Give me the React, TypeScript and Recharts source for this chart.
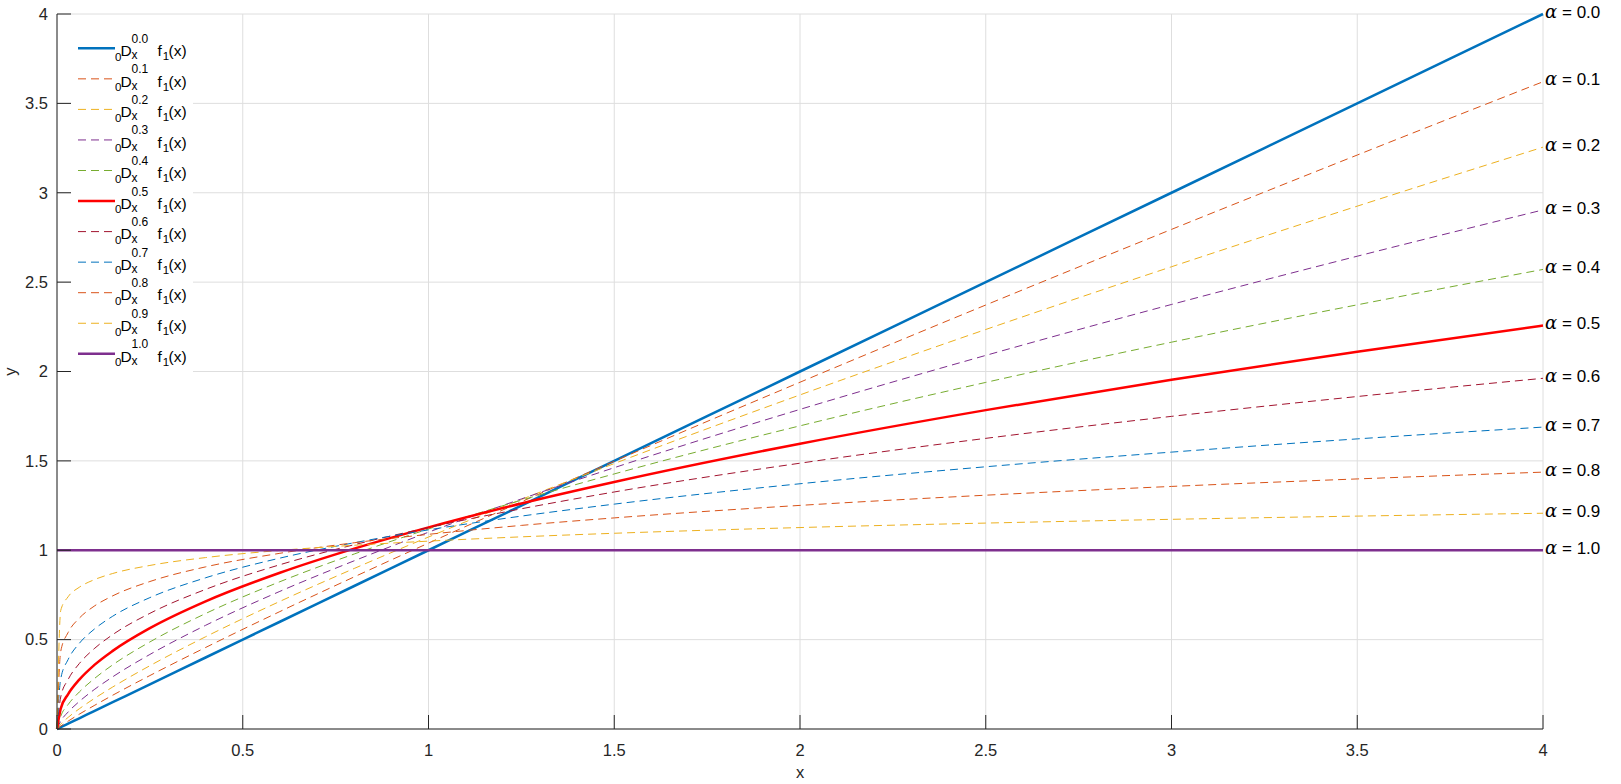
import { CartesianGrid, Label, LabelList, Legend, Line, LineChart, XAxis, YAxis } from "recharts";

// sample positions along x
const xValues = [0, 0.01, 0.03, 0.06, 0.1, 0.15, 0.25, 0.4, 0.6, 0.8, 1, 1.25, 1.5, 2, 2.5, 3, 3.5, 4];

// one series per alpha
const alpha00 = [0, 0.01, 0.03, 0.06, 0.1, 0.15, 0.25, 0.4, 0.6, 0.8, 1, 1.25, 1.5, 2, 2.5, 3, 3.5, 4];
const alpha01 = [0, 0.016, 0.044, 0.083, 0.131, 0.189, 0.299, 0.456, 0.657, 0.851, 1.04, 1.271, 1.498, 1.94, 2.372, 2.795, 3.211, 3.621];
const alpha02 = [0, 0.027, 0.065, 0.113, 0.17, 0.235, 0.354, 0.516, 0.714, 0.898, 1.074, 1.284, 1.485, 1.869, 2.235, 2.586, 2.925, 3.255];
const alpha03 = [0, 0.044, 0.095, 0.154, 0.22, 0.292, 0.417, 0.58, 0.77, 0.941, 1.101, 1.287, 1.462, 1.788, 2.09, 2.375, 2.645, 2.904];
const alpha04 = [0, 0.071, 0.137, 0.207, 0.281, 0.359, 0.487, 0.646, 0.824, 0.979, 1.119, 1.28, 1.427, 1.696, 1.939, 2.164, 2.373, 2.571];
const alpha05 = [0, 0.113, 0.195, 0.276, 0.357, 0.437, 0.564, 0.714, 0.874, 1.009, 1.128, 1.262, 1.382, 1.596, 1.784, 1.954, 2.111, 2.257];
const alpha06 = [0, 0.179, 0.277, 0.366, 0.449, 0.528, 0.647, 0.781, 0.919, 1.031, 1.127, 1.232, 1.326, 1.487, 1.626, 1.749, 1.86, 1.962];
const alpha07 = [0, 0.28, 0.389, 0.479, 0.558, 0.631, 0.735, 0.846, 0.956, 1.042, 1.114, 1.191, 1.258, 1.372, 1.467, 1.549, 1.623, 1.689];
const alpha08 = [0, 0.434, 0.54, 0.62, 0.687, 0.745, 0.825, 0.907, 0.983, 1.042, 1.089, 1.139, 1.181, 1.251, 1.308, 1.357, 1.399, 1.437];
const alpha09 = [0, 0.663, 0.74, 0.793, 0.835, 0.87, 0.915, 0.959, 0.999, 1.028, 1.051, 1.075, 1.095, 1.127, 1.152, 1.173, 1.191, 1.207];
const alpha10 = [1, 1, 1, 1, 1, 1, 1, 1, 1, 1, 1, 1, 1, 1, 1, 1, 1, 1];

const alphaNames = ["0.0", "0.1", "0.2", "0.3", "0.4", "0.5", "0.6", "0.7", "0.8", "0.9", "1.0"];
const tickValues = [0, 0.5, 1, 1.5, 2, 2.5, 3, 3.5, 4];

const seriesValues = [alpha00, alpha01, alpha02, alpha03, alpha04, alpha05, alpha06, alpha07, alpha08, alpha09, alpha10];
const seriesColors = [
  "#0072BD", "#D95319", "#EDB120", "#7E2F8E", "#77AC30", "#FF0000",
  "#A2142F", "#0072BD", "#D95319", "#EDB120", "#7E2F8E",
];
const solidSeries = [true, false, false, false, false, true, false, false, false, false, true];

const chartData = xValues.map((x, i) => {
  const row: Record<string, number> = { x };
  seriesValues.forEach((values, k) => {
    row[`a${k}`] = values[i];
  });
  return row;
});

const FONT = "'Liberation Sans', Arial, Helvetica, sans-serif";
const AXIS = "#262626";
const DASH = "8 5";

function LegendBox() {
  return (
    <div style={{ width: 122, height: 361, background: "#fff" }}>
      <svg width={122} height={361} style={{ display: "block", fontFamily: FONT }}>
        {alphaNames.map((name, k) => {
          const ly = 33.3 + 30.55 * k;
          return (
            <g key={name} fill="#000">
              <line
                x1={7}
                x2={44}
                y1={ly}
                y2={ly}
                stroke={seriesColors[k]}
                strokeWidth={solidSeries[k] ? 2.5 : 1}
                strokeDasharray={solidSeries[k] ? undefined : DASH}
              />
              <text x={44} y={ly + 12.3} fontSize={11.5}>0</text>
              <text x={49.5} y={ly + 7.7} fontSize={15.5}>D</text>
              <text x={60.5} y={ly - 5.5} fontSize={12}>{name}</text>
              <text x={60.5} y={ly + 11} fontSize={12}>x</text>
              <text x={86.5} y={ly + 7.7} fontSize={15.5}>f</text>
              <text x={91.8} y={ly + 11.7} fontSize={11.5}>1</text>
              <text x={97.5} y={ly + 7.7} fontSize={15.5}>(x)</text>
            </g>
          );
        })}
      </svg>
    </div>
  );
}

const endLabel = (k: number) => (props: any) => {
  if (props.index !== xValues.length - 1) return null;
  const x = Number(props.x);
  const y = Number(props.y);
  return (
    <g>
      <text x={x + 2} y={y + 3.6} fontSize={18} fontStyle="italic" fontFamily="'DejaVu Serif', 'Liberation Serif', serif" fill="#000">
        α
      </text>
      <text x={x + 19} y={y + 3.6} fontSize={17} fontFamily={FONT} fill="#000">
        = {alphaNames[k]}
      </text>
    </g>
  );
};

export default function App() {
  return (
    <div style={{ position: "absolute", left: 0, top: 0, background: "#fff", fontFamily: FONT }}>
      <LineChart width={1621} height={784} data={chartData} margin={{ top: 14, right: 78, left: 0, bottom: 0 }}>
        <CartesianGrid stroke="#dedede" strokeWidth={1} />
        <XAxis
          dataKey="x"
          type="number"
          domain={[0, 4]}
          ticks={tickValues}
          interval={0}
          height={55}
          tickSize={-14}
          tickMargin={29}
          tick={{ fontSize: 16.5, fill: AXIS }}
          stroke={AXIS}
          axisLine={{ stroke: AXIS }}
          tickLine={{ stroke: AXIS }}
        >
          <Label
            content={() => (
              <text x={800} y={778} textAnchor="middle" fontSize={16.5} fill={AXIS}>
                x
              </text>
            )}
          />
        </XAxis>
        <XAxis
          xAxisId="top"
          orientation="top"
          type="number"
          domain={[0, 4]}
          ticks={tickValues}
          interval={0}
          height={0}
          tickSize={-14}
          tick={false}
          axisLine={{ stroke: AXIS }}
          tickLine={{ stroke: AXIS }}
        />
        <YAxis
          type="number"
          domain={[0, 4]}
          ticks={tickValues}
          interval={0}
          width={57}
          tickSize={-14}
          tickMargin={23}
          tick={{ fontSize: 16.5, fill: AXIS }}
          axisLine={{ stroke: AXIS }}
          tickLine={{ stroke: AXIS }}
        >
          <Label
            content={() => (
              <text x={16} y={371.5} textAnchor="middle" fontSize={16.5} fill={AXIS} transform="rotate(-90, 16, 371.5)">
                y
              </text>
            )}
          />
        </YAxis>
        <YAxis
          yAxisId="right"
          orientation="right"
          type="number"
          domain={[0, 4]}
          ticks={tickValues}
          interval={0}
          width={0}
          tickSize={-14}
          tick={false}
          axisLine={{ stroke: AXIS }}
          tickLine={{ stroke: AXIS }}
        />
        {seriesValues.map((_, k) => (
          <Line
            key={k}
            dataKey={`a${k}`}
            name={alphaNames[k]}
            type="monotone"
            stroke={seriesColors[k]}
            strokeWidth={solidSeries[k] ? 2.5 : 1}
            strokeDasharray={solidSeries[k] ? undefined : DASH}
            dot={false}
            activeDot={false}
            isAnimationActive={false}
          >
            <LabelList dataKey={`a${k}`} content={endLabel(k)} />
          </Line>
        ))}
        <Legend
          layout="vertical"
          align="center"
          verticalAlign="middle"
          content={() => <LegendBox />}
          wrapperStyle={{ left: 71, top: 15, width: 122, height: 361 }}
        />
      </LineChart>
    </div>
  );
}
